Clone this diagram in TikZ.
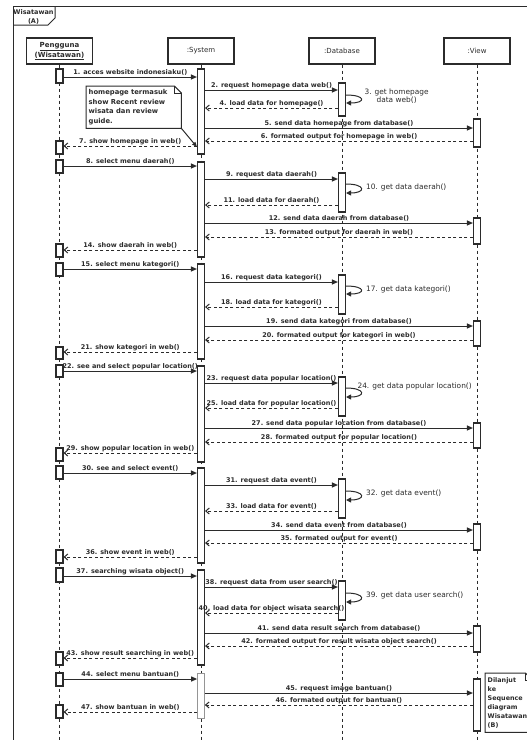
\documentclass[tikz,border=0pt]{standalone}
\usepackage{fontspec}
\setmainfont{DejaVu Sans}
\usetikzlibrary{arrows.meta, positioning, calc}
\definecolor{ink}{HTML}{2B2B2B}

\begin{document}
\begin{tikzpicture}[
  x=1pt, y=-1pt,
  every node/.style={text=ink},
  head/.style={rectangle, draw=ink, line width=1.2pt, minimum width=66pt,
               minimum height=26pt, align=center, inner sep=1pt,
               font=\fontsize{7}{8}\selectfont},
  bar/.style={rectangle, draw=ink, line width=1.1pt, fill=white,
              minimum width=7pt, inner sep=0pt},
  lifeline/.style={draw=ink, line width=1pt, dash pattern=on 3pt off 3pt},
  msg/.style={draw=ink, line width=1pt, -{Triangle[length=6pt,width=5pt]}},
  ret/.style={draw=ink, line width=1pt, dash pattern=on 3pt off 2.5pt,
              -{Straight Barb[length=3.5pt,width=6pt,line width=1pt]}},
  lbl/.style={midway, above, inner sep=0.8pt,
              font=\bfseries\fontsize{6.5}{7.5}\selectfont},
  selfmsg/.style={draw=ink, line width=1pt, -{Triangle[length=5pt,width=5pt]}},
  selflbl/.style={anchor=west, inner sep=0pt, align=center,
                  font=\fontsize{7.4}{8.4}\selectfont},
  notebox/.style={rectangle, inner sep=2.5pt, anchor=north west, align=left,
                  font=\bfseries\fontsize{6.8}{9.4}\selectfont},
  notefold/.style={draw=ink, line width=1pt}
]
\useasboundingbox (0,0) rectangle (527,740);
\clip (0,0) rectangle (527,740);

% frame and its tab
\draw[ink, line width=1pt] (13,746) -- (13,6) -- (532,6);
\draw[ink, line width=1pt] (13,25) -- (48,25) -- (55,18) -- (55,6);
\node[inner sep=0pt, align=center, font=\bfseries\fontsize{6.5}{8.5}\selectfont]
  (tab) at (33.5,17) {Wisatawan\\(A)};

% lifeline heads
\node[head] (hP) at (59.5,51) {\bfseries\underline{Pengguna}\\\bfseries\underline{(Wisatawan)}};
\node[head] (hS) at (201,51) {:System};
\node[head] (hD) at (342,51) {:Database};
\node[head] (hV) at (477,51) {:View};

\coordinate (bot) at (0,746);
\foreach \h in {hP,hS,hD,hV}
  \draw[lifeline] (\h.south) -- (\h.south |- bot);

% activation bars
\foreach \n/\x/\ya/\yb in {
  P1/59.5/69/83, P2/59.5/141/154, P3/59.5/160/173, P4/59.5/244/257,
  P5/59.5/263/276, P6/59.5/347/359, P7/59.5/365/377, P8/59.5/448/461,
  P9/59.5/466/479, P10/59.5/550/563, P11/59.5/568/582, P12/59.5/652/665,
  P13/59.5/673/686, P14/59.5/705/718,
  S1/201/69/154, S2/201/162/257, S3/201/264/359, S4/201/366/462,
  S5/201/468/563, S6/201/570/665,
  D1/342/83/116, D2/342/173/212, D3/342/275/314, D4/342/377/416,
  D5/342/479/518, D6/342/581/620,
  V1/477/119/147, V2/477/218/244, V3/477/321/346, V4/477/423/448,
  V5/477/524/550, V6/477/626/652, V7/477/679/731}
  \node[bar, minimum height={(\yb-\ya)*1pt}] (\n) at (\x,{(\ya+\yb)/2}) {};
\node[bar, draw=ink!50, line width=0.7pt, minimum height=45pt] (S7) at (201,695.5) {};

% calls
\foreach \y/\a/\b/\t in {
  77/P1/S1/{1. acces website indonesiaku()},
  90/S1/D1/{2. request homepage data web()},
  128/S1/V1/{5. send data homepage from database()},
  166/P3/S2/{8. select menu daerah()},
  179/S2/D2/{9. request data daerah()},
  223/S2/V2/{12. send data daerah from database()},
  269/P5/S3/{15. select menu kategori()},
  282/S3/D3/{16. request data kategori()},
  326/S3/V3/{19. send data kategori from database()},
  371/P7/S4/{22. see and select popular location()},
  383/S4/D4/{23. request data popular location()},
  428/S4/V4/{27. send data popular location from database()},
  473/P9/S5/{30. see and select event()},
  485/S5/D5/{31. request data event()},
  530/S5/V5/{34. send data event from database()},
  576/P11/S6/{37. searching wisata object()},
  587/S6/D6/{38. request data from user search()},
  633/S6/V6/{41. send data result search from database()},
  679/P13/S7/{44. select menu bantuan()},
  693/S7/V7/{45. request image bantuan()}}
  \draw[msg] (\a.east |- 0,\y) -- (\b.west |- 0,\y) node[lbl] (m\y) {\t};

% returns
\foreach \y/\a/\b/\t in {
  108/D1/S1/{4. load data for homepage()},
  141/V1/S1/{6. formated output for homepage in web()},
  146/S1/P2/{7. show homepage in web()},
  205/D2/S2/{11. load data for daerah()},
  237/V2/S2/{13. formated output for daerah in web()},
  250/S2/P4/{14. show daerah in web()},
  307/D3/S3/{18. load data for kategori()},
  340/V3/S3/{20. formated output for kategori in web()},
  352/S3/P6/{21. show kategori in web()},
  408/D4/S4/{25. load data for popular location()},
  442/V4/S4/{28. formated output for popular location()},
  453/S4/P8/{29. show popular location in web()},
  511/D5/S5/{33. load data for event()},
  543/V5/S5/{35. formated output for event()},
  557/S5/P10/{36. show event in web()},
  613/D6/S6/{40. load data for object wisata search()},
  646/V6/S6/{42. formated output for result wisata object search()},
  658/S6/P12/{43. show result searching in web()},
  705/V7/S7/{46. formated output for bantuan()},
  712/S7/P14/{47. show bantuan in web()}}
  \draw[ret] (\a.west |- 0,\y) -- (\b.east |- 0,\y) node[lbl] (r\y) {\t};

% self calls on the database
\foreach \n/\ya/\yb/\dx/\ly/\t in {
  D1/95/103/18/96/{3. get homepage\\data web()},
  D2/184/193/19.5/187/{10. get data daerah()},
  D3/286/294/19.5/289/{17. get data kategori()},
  D4/388/397/11/386/{24. get data popular location()},
  D5/491/500/19.5/493/{32. get data event()},
  D6/593/602/19.5/595/{39. get data user search()}}
  \draw[selfmsg] (\n.east |- 0,\ya) .. controls +(20,0) and +(20,0) .. (\n.east |- 0,\yb)
    node[selflbl] (s\n) at ($(\n.east |- 0,\ly)+(\dx,0)$) {\t};

% notes
\node[notebox, text width=90pt, minimum height=42pt] (hpnote) at (86,86)
  {homepage termasuk\\show Recent review\\wisata dan review\\guide.};
\draw[notefold] (hpnote.south west) -- (hpnote.north west)
  -- ([xshift=-7pt]hpnote.north east) -- ([yshift=-7pt]hpnote.north east)
  -- (hpnote.south east) -- cycle;
\draw[notefold] ([xshift=-7pt]hpnote.north east) -- ([xshift=-7pt,yshift=-7pt]hpnote.north east)
  -- ([yshift=-7pt]hpnote.north east);
\draw[ink, line width=1pt, -{Triangle[length=5pt,width=4pt]}] (hpnote.south east) -- (S1.west |- 0,147);

\node[notebox, text width=42pt, minimum height=59pt,
      font=\bfseries\fontsize{6.4}{9}\selectfont] (nextnote) at (485,673)
  {Dilanjut\\ke\\Sequence\\diagram\\Wisatawan\\(B)};
\draw[notefold] (nextnote.south west) -- (nextnote.north west)
  -- ([xshift=-7pt]nextnote.north east) -- ([yshift=-7pt]nextnote.north east)
  -- (nextnote.south east) -- cycle;
\draw[notefold] ([xshift=-7pt]nextnote.north east) -- ([xshift=-7pt,yshift=-7pt]nextnote.north east)
  -- ([yshift=-7pt]nextnote.north east);
\end{tikzpicture}
\end{document}
